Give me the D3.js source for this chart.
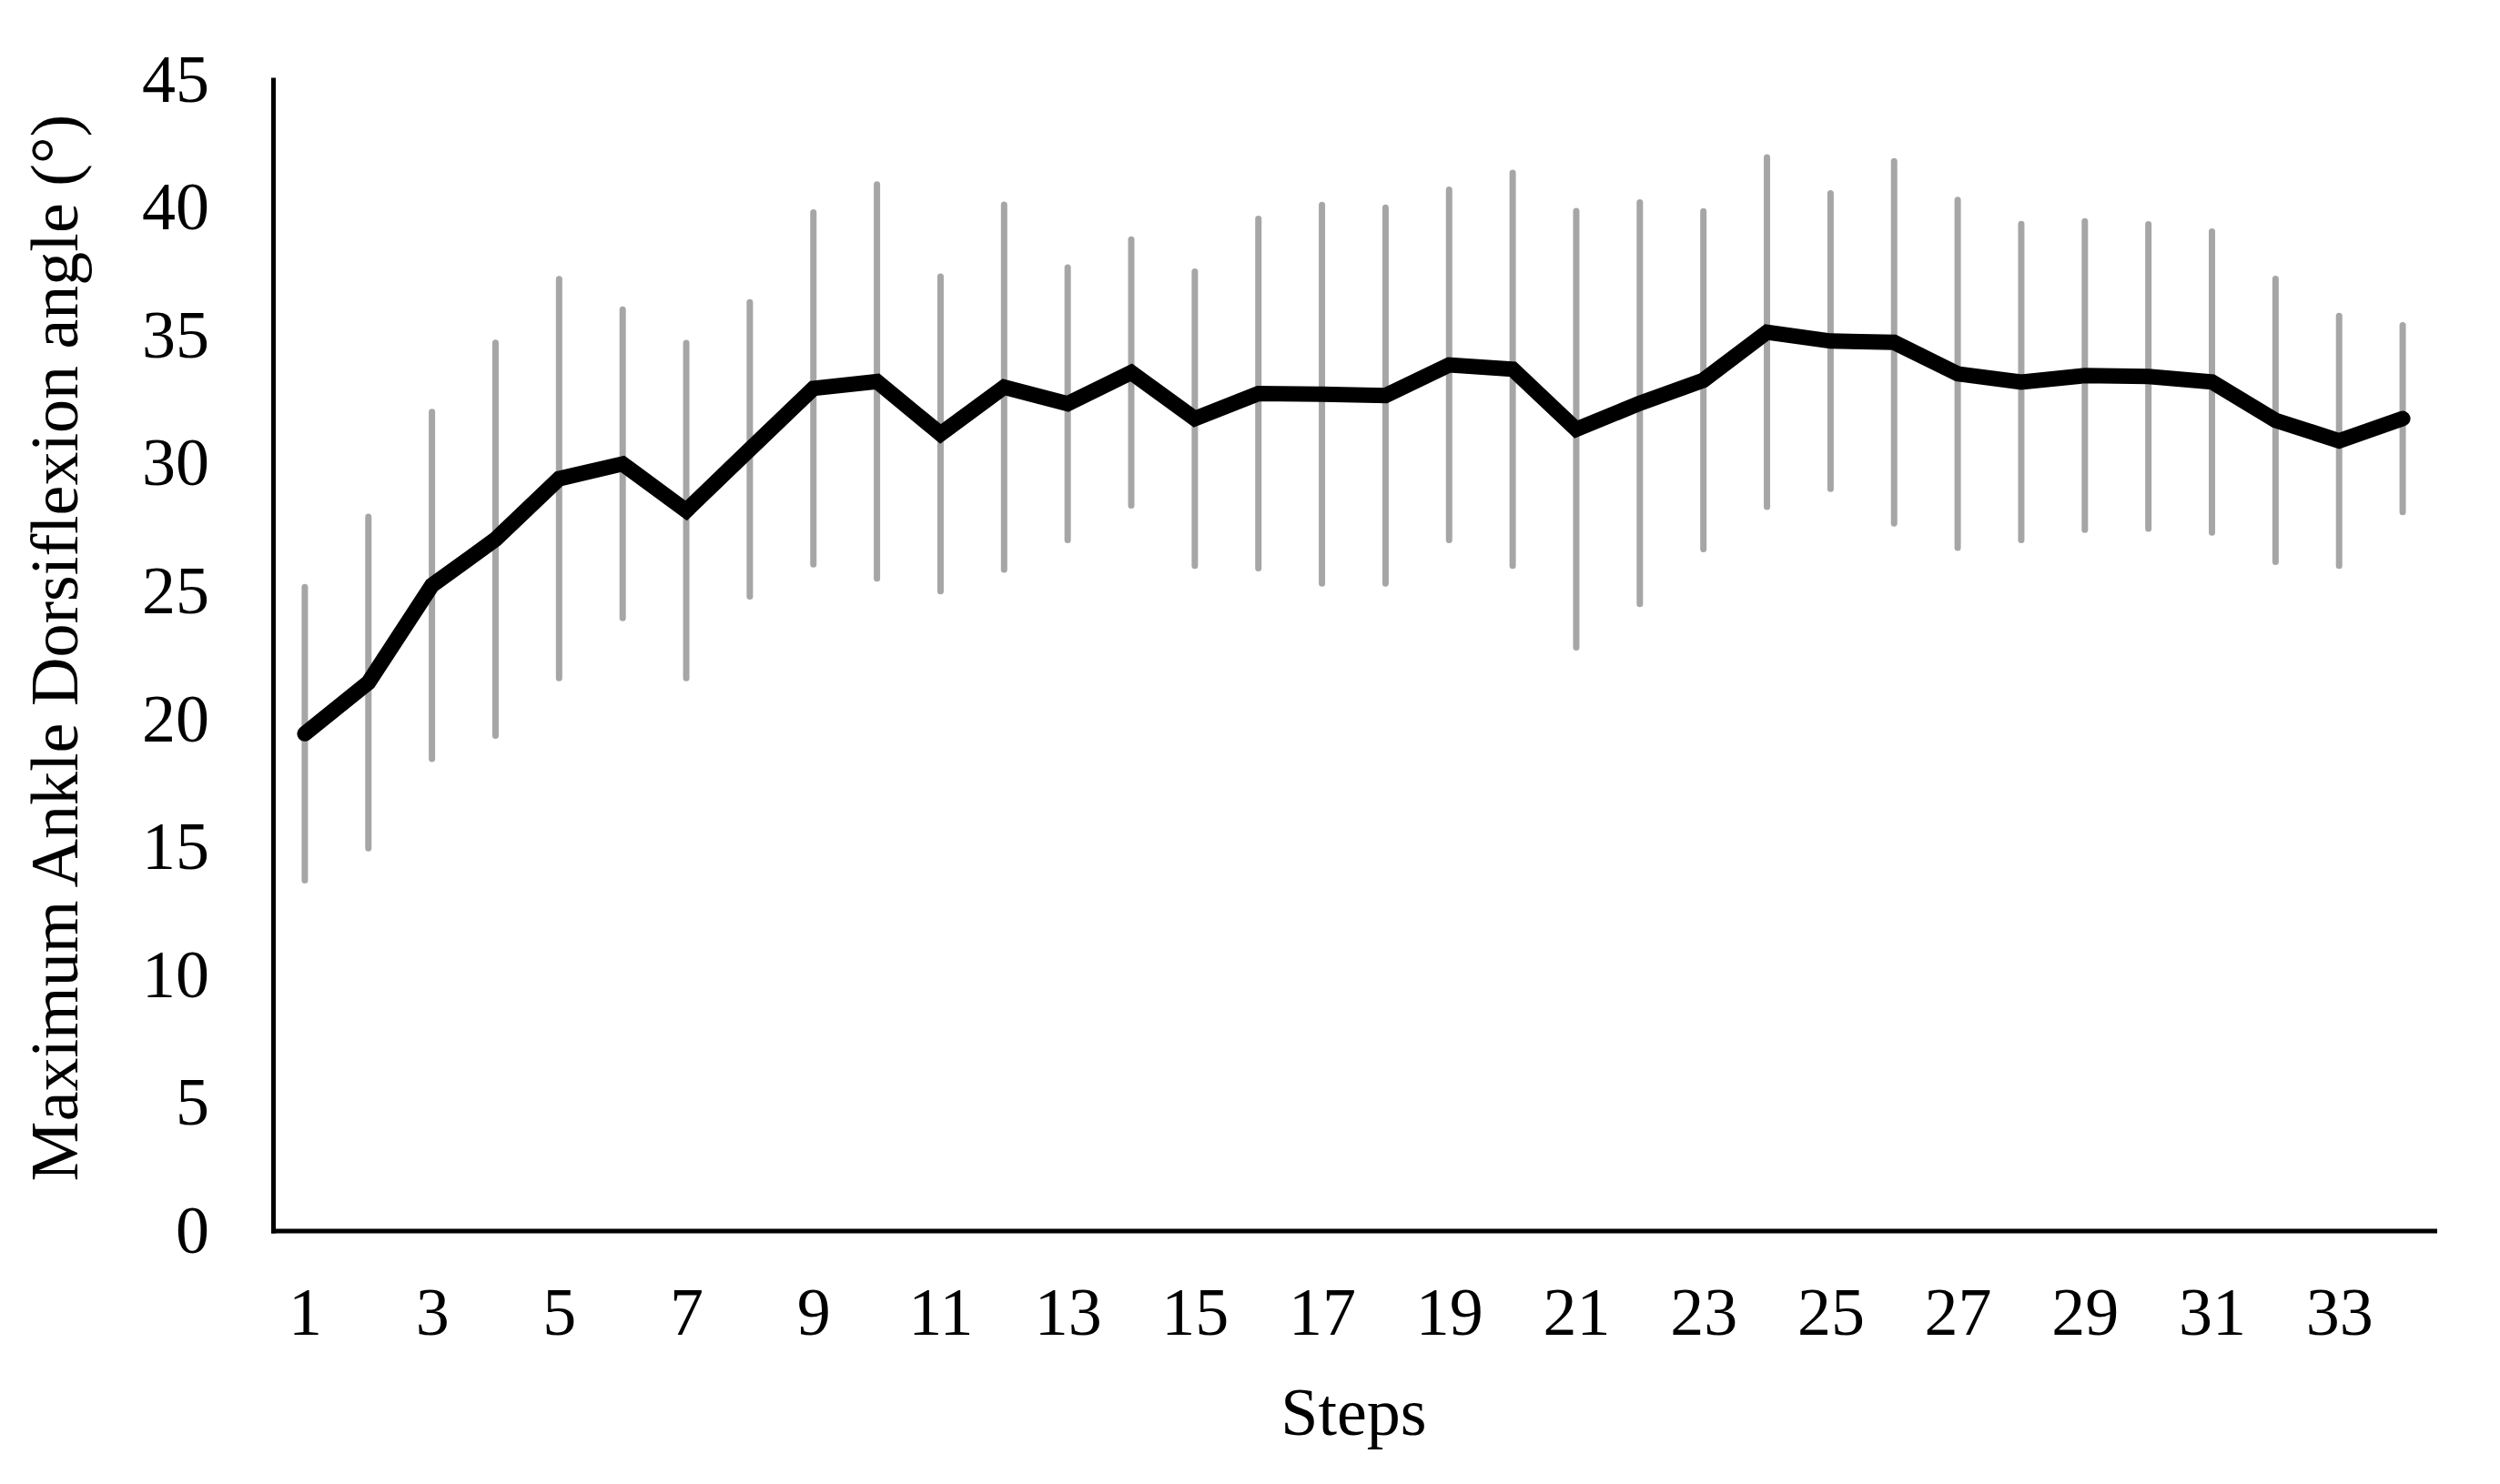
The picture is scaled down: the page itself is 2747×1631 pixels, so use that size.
<!DOCTYPE html>
<meta charset="utf-8">

<style>
    body { margin: 0; background: #fff; }
    .chart text {
      font-family: "Liberation Serif", "Times New Roman", serif;
      fill: #000;
    }
    .chart .tick text { font-size: 74px; }
    .chart .domain { stroke: #000; stroke-width: 5px; stroke-linecap: square; }
</style>

<body>
<svg class="chart"></svg>
<script src="https://d3js.org/d3.v7.min.js"></script>

<script type="text/javascript">

    // data: mean +/- SD per step
    var steps = d3.range(1, 35);
    var meanAngle = [19.43, 21.43, 25.23, 27.03, 29.4, 29.98, 28.15, 30.55, 32.93, 33.2,
                     31.15, 32.98, 32.33, 33.55, 31.75, 32.73, 32.7, 32.65, 33.85, 33.68,
                     31.33, 32.35, 33.25, 35.13, 34.78, 34.73, 33.5, 33.18, 33.43, 33.4,
                     33.18, 31.68, 30.88, 31.75];
    var sdAngle = [5.73, 6.48, 6.78, 7.68, 7.8, 6.03, 6.55, 5.75, 6.88, 7.7,
                   6.15, 7.13, 5.33, 5.2, 5.75, 6.83, 7.4, 7.35, 6.85, 7.68,
                   8.53, 7.85, 6.6, 6.83, 5.78, 7.08, 6.8, 6.18, 6.03, 5.95,
                   5.88, 5.53, 4.88, 3.65];
    var xTickLabels = [1, 3, 5, 7, 9, 11, 13, 15, 17, 19, 21, 23, 25, 27, 29, 31, 33];
    var yTickLabels = [0, 5, 10, 15, 20, 25, 30, 35, 40, 45];

    //setting up the chart area

    var w = 2747;
    var h = 1631;
    var plotLeft = 300, plotRight = 2675, plotTop = 87.6, plotBottom = 1352.5;

    var chart = d3.select(".chart")
        .attr("width", w)
        .attr("height", h);

    var x = d3.scalePoint()
        .domain(steps)
        .range([plotLeft, plotRight])
        .padding(0.5);

    var y = d3.scaleLinear()
        .domain([0, 45])
        .range([plotBottom, plotTop]);

    // error bars
    chart.append("g")
        .selectAll("line")
        .data(steps)
        .enter()
        .append("line")
        .attr("x1", function (d) { return x(d); })
        .attr("x2", function (d) { return x(d); })
        .attr("y1", function (d, i) { return y(meanAngle[i] + sdAngle[i]); })
        .attr("y2", function (d, i) { return y(meanAngle[i] - sdAngle[i]); })
        .attr("stroke", "#a6a6a6")
        .attr("stroke-width", 7)
        .attr("stroke-linecap", "round");

    // mean line
    var line = d3.line()
        .x(function (d) { return x(d); })
        .y(function (d, i) { return y(meanAngle[i]); });

    chart.append("path")
        .datum(steps)
        .attr("d", line)
        .attr("fill", "none")
        .attr("stroke", "#000")
        .attr("stroke-width", 17)
        .attr("stroke-linejoin", "miter")
        .attr("stroke-linecap", "round");

    // axes
    chart.append("g")
        .attr("transform", "translate(" + plotLeft + ",0)")
        .call(d3.axisLeft(y).tickValues(yTickLabels).tickSize(0).tickPadding(70));

    chart.append("g")
        .attr("transform", "translate(0," + plotBottom + ")")
        .call(d3.axisBottom(x).tickValues(xTickLabels).tickSize(0).tickPadding(62));

    chart.selectAll(".tick line").remove();

    // titles
    chart.append("text")
        .attr("x", (plotLeft + plotRight) / 2)
        .attr("y", 1577)
        .attr("text-anchor", "middle")
        .style("font-size", "74px")
        .text("Steps");

    chart.append("text")
        .attr("transform", "translate(85,712) rotate(-90)")
        .attr("text-anchor", "middle")
        .style("font-size", "74px")
        .text("Maximum Ankle Dorsiflexion angle (°)");

</script>

</body>
